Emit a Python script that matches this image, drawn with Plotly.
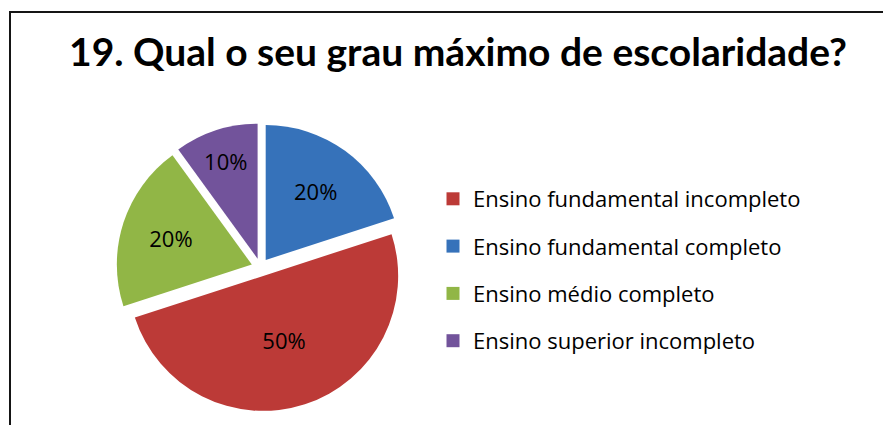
import plotly.graph_objects as go

# Survey answers (legend order)
categories = [
    "Ensino fundamental incompleto",
    "Ensino fundamental completo",
    "Ensino médio completo",
    "Ensino superior incompleto",
]
shares = [50, 20, 20, 10]
colors = ["#BC3A37", "#3672BA", "#91B646", "#72539B"]

# Clockwise drawing order of the slices, starting at 12 o'clock
slice_order = [1, 0, 2, 3]

W, H = 883, 425
TITLE_FONT = "Lato"
BODY_FONT = "Open Sans"

fig = go.Figure()

fig.add_trace(go.Pie(
    labels=[categories[i] for i in slice_order],
    values=[shares[i] for i in slice_order],
    marker=dict(colors=[colors[i] for i in slice_order], line=dict(width=0)),
    sort=False,
    direction="clockwise",
    rotation=0,
    pull=0.067,
    textinfo="percent",
    textposition="inside",
    insidetextorientation="horizontal",
    insidetextfont=dict(family=BODY_FONT, size=22, color="black"),
    domain=dict(x=[116.4 / W, 404.4 / W], y=[1 - 411.3 / H, 1 - 123.3 / H]),
    showlegend=False,
    hoverinfo="label+percent",
))

# Legend entries in category order
for name, col in zip(categories, colors):
    fig.add_trace(go.Scatter(
        x=[None], y=[None], mode="markers", name=name,
        legendgroup=name,
        marker=dict(symbol="square", size=13, color=col),
    ))

fig.update_layout(
    width=W, height=H,
    margin=dict(l=0, r=0, t=0, b=0),
    paper_bgcolor="white",
    plot_bgcolor="white",
    xaxis=dict(visible=False),
    yaxis=dict(visible=False),
    title=dict(
        text="<b>19. Qual o seu grau máximo de escolaridade?</b>",
        font=dict(family=TITLE_FONT, size=39, color="black"),
        x=458 / W, xanchor="center",
        y=1 - 52 / H, yanchor="middle",
    ),
    legend=dict(
        x=433 / W, xanchor="left",
        y=1 - 178 / H, yanchor="top",
        traceorder="grouped",
        tracegroupgap=15.7,
        font=dict(family=BODY_FONT, size=22, color="black"),
        bgcolor="rgba(0,0,0,0)",
    ),
    shapes=[dict(
        type="rect", xref="paper", yref="paper",
        x0=10 / W, y0=1 - 12 / H, x1=1.05, y1=-0.05,
        line=dict(color="#151515", width=2),
        fillcolor="rgba(0,0,0,0)",
    )],
)

fig.write_html("out.html")
